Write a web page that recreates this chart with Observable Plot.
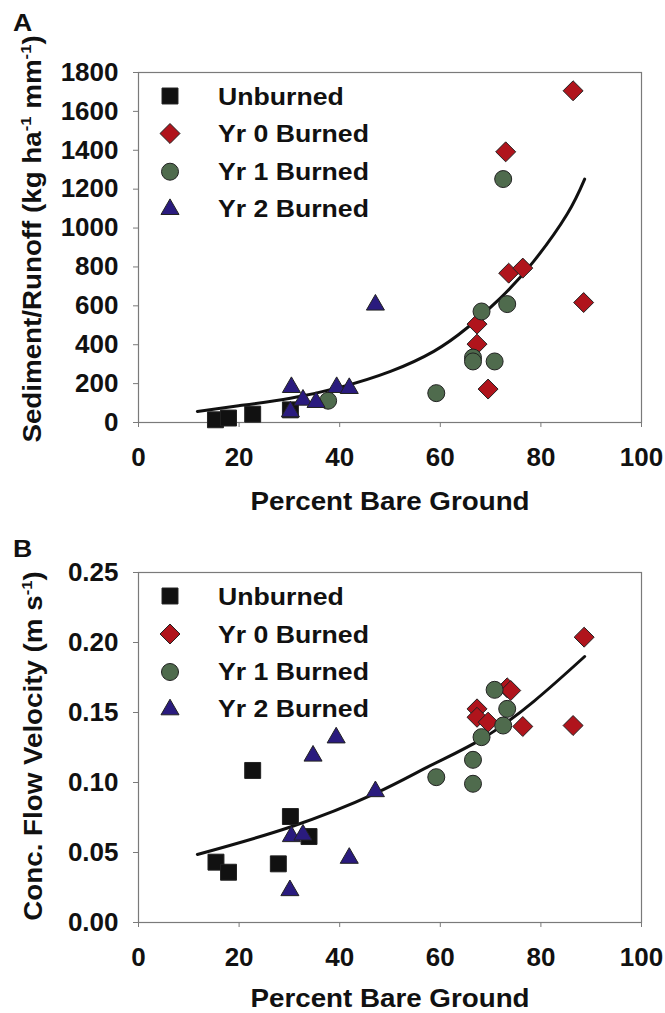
<!DOCTYPE html>
<html><head><meta charset="utf-8">
<script src="https://cdn.jsdelivr.net/npm/d3@7"></script>
<script src="https://cdn.jsdelivr.net/npm/@observablehq/plot@0.6"></script>
<style>
body{margin:0;background:#fff;}
#wrap{width:665px;}
#wrap svg{display:block;overflow:visible;background:#fff;}
</style></head><body><div id="wrap"></div>
<script>
// ---------- data ----------
const xTicks = [0, 20, 40, 60, 80, 100];
const yTicksA = [0, 200, 400, 600, 800, 1000, 1200, 1400, 1600, 1800];
const yTicksB = [0, 0.05, 0.10, 0.15, 0.20, 0.25];
const seriesNames = ["Unburned", "Yr 0 Burned", "Yr 1 Burned", "Yr 2 Burned"];

// Panel A: Sediment/Runoff vs percent bare ground
const unburnedA = [[15.3, 14], [17.9, 23], [22.7, 43], [30.2, 65]];
const yr0A = [[86.4, 1706], [73.0, 1392], [73.6, 768], [76.4, 794], [88.5, 617], [67.3, 506], [67.3, 403], [69.5, 172]];
const yr1A = [[72.5, 1252], [68.2, 571], [73.3, 609], [66.5, 334], [66.5, 314], [70.8, 314], [59.2, 151], [37.7, 112]];
const yr2A = [[30.4, 181], [32.7, 116], [35.3, 104], [39.4, 181], [41.9, 176], [47.1, 605], [30.2, 56]];
const fitA = [[11.7, 57], [19.9, 86], [30.2, 125], [40.2, 182], [50.1, 263], [58.7, 366], [65.3, 486], [72.0, 641], [78.6, 830], [85.2, 1071], [88.7, 1252]];

// Panel B: concentrated flow velocity vs percent bare ground
const unburnedB = [[15.4, 0.0431], [17.9, 0.0359], [22.7, 0.1086], [27.8, 0.0419], [30.2, 0.0757], [33.9, 0.0614]];
const yr0B = [[88.6, 0.2038], [73.3, 0.1676], [74.0, 0.1657], [67.3, 0.1526], [67.3, 0.1466], [69.5, 0.1431], [76.4, 0.1400], [86.4, 0.1407]];
const yr1B = [[59.2, 0.1038], [66.5, 0.1162], [66.5, 0.0991], [68.2, 0.1324], [70.8, 0.1662], [73.3, 0.1526], [72.5, 0.1407]];
const yr2B = [[30.4, 0.0615], [32.7, 0.0626], [34.7, 0.119], [39.3, 0.132], [47.1, 0.0936], [41.9, 0.046], [30.1, 0.0229]];
const fitB = [[11.7, 0.0486], [30.2, 0.0682], [47.1, 0.0922], [58.0, 0.112], [68.2, 0.131], [78.6, 0.158], [88.7, 0.190]];

// ---------- styles ----------
const FONT = "'Liberation Sans', Arial, Helvetica, sans-serif";
const symbols = [d3.symbolSquare, d3.symbolDiamond2, d3.symbolCircle, d3.symbolTriangle];
const fills = ["#111111", "#b0141c", "#4f6b4d", "#2a1b7e"];
const radii = [9, 9, 8.5, 6.7];
const AXIS = "#7a7a7a";

function stext(g, {x, y, text, size, anchor = "start", rotate = 0, parts = null, sx = 1.11}) {
  const t = g.append("text")
    .attr("transform", `translate(${x},${y}) rotate(${rotate}) scale(${sx},1)`)
    .attr("text-anchor", anchor)
    .attr("font-family", FONT)
    .attr("font-weight", "bold")
    .attr("font-size", size)
    .attr("fill", "#111");
  if (parts) {
    let shift = 0;
    parts.forEach(p => {
      if (p.sup) {
        t.append("tspan").attr("font-size", size * 0.6).attr("dy", -size * 0.42).text(p.sup);
        shift = size * 0.42;
      } else {
        const s = t.append("tspan").text(p.t);
        if (shift) { s.attr("dy", shift); shift = 0; }
      }
    });
  } else t.text(text);
  return t;
}

function panel(cfg) {
  const marks = [
    Plot.frame({stroke: AXIS, strokeWidth: 1.2}),
    Plot.axisX({ticks: xTicks, tickSize: 5, tickPadding: 20, stroke: AXIS, fill: "#111", label: null,
      fontSize: 26, fontWeight: "bold", fontFamily: FONT}),
    Plot.axisY({ticks: cfg.yTicks, tickFormat: cfg.yFormat, tickSize: 5, tickPadding: 15, stroke: AXIS, fill: "#111", label: null,
      fontSize: 26, fontWeight: "bold", fontFamily: FONT}),
    Plot.line(cfg.fit, {x: d => d[0], y: d => d[1], curve: "natural", stroke: "#111", strokeWidth: 3})
  ];
  cfg.series.forEach((data, i) => {
    marks.push(Plot.dot(data, {x: d => d[0], y: d => d[1], symbol: symbols[i], r: radii[i],
      fill: fills[i], stroke: "#222", strokeWidth: 1, fillOpacity: 1}));
  });
  const svg = Plot.plot({
    width: 665, height: cfg.height,
    marginLeft: 138, marginRight: 24, marginTop: cfg.marginTop, marginBottom: cfg.marginBottom,
    x: {domain: [0, 100]},
    y: {domain: cfg.yDomain},
    style: {fontFamily: FONT, background: "#fff", overflow: "visible"},
    marks
  });
  const g = d3.select(svg).append("g");
  stext(g, {x: 13, y: cfg.letterY, text: cfg.letter, size: 24});
  stext(g, {x: 390, y: cfg.xTitleY, text: "Percent Bare Ground", size: 25, anchor: "middle"});
  stext(g, {x: cfg.yTitleX, y: cfg.yTitleY, size: 25, anchor: "middle", rotate: -90, parts: cfg.yParts});
  cfg.legendRows.forEach((ry, i) => {
    const size = Math.PI * radii[i] * radii[i];
    g.append("path").attr("d", d3.symbol(symbols[i], size)())
      .attr("transform", `translate(170,${ry + (i === 3 ? 2.6 : 0)})`)
      .attr("fill", fills[i]).attr("stroke", "#222").attr("stroke-width", 1);
    stext(g, {x: 218, y: cfg.legendBase[i], text: seriesNames[i], size: 24});
  });
  document.getElementById("wrap").appendChild(svg);
}

panel({
  height: 520, marginTop: 72, marginBottom: 98,
  yDomain: [0, 1800], yTicks: yTicksA, yFormat: d3.format("d"),
  fit: fitA, series: [unburnedA, yr0A, yr1A, yr2A],
  letter: "A", letterY: 31, xTitleY: 510,
  yTitleX: 41, yTitleY: 239,
  yParts: [{t: "Sediment/Runoff (kg ha"}, {sup: "-1"}, {t: " mm"}, {sup: "-1"}, {t: ")"}],
  legendRows: [96, 133.5, 171.7, 206.7],
  legendBase: [105, 141.7, 180, 216.5]
});
panel({
  height: 493, marginTop: 52, marginBottom: 91,
  yDomain: [0, 0.25], yTicks: yTicksB, yFormat: d3.format(".2f"),
  fit: fitB, series: [unburnedB, yr0B, yr1B, yr2B],
  letter: "B", letterY: 37, xTitleY: 487,
  yTitleX: 42, yTitleY: 226,
  yParts: [{t: "Conc. Flow Velocity (m s"}, {sup: "-1"}, {t: ")"}],
  legendRows: [76, 114, 152, 187],
  legendBase: [85, 123, 160, 197]
});
</script>
</body></html>
